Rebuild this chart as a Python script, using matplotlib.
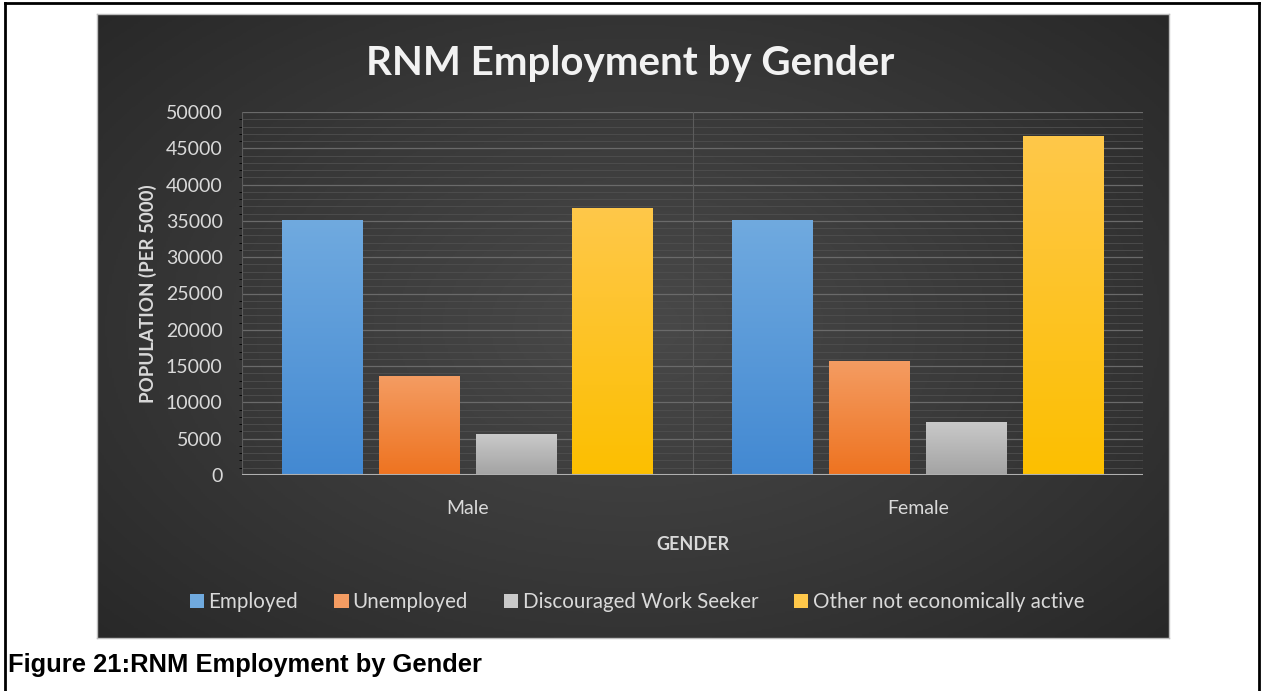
import numpy as np
import matplotlib
matplotlib.use("Agg")
import matplotlib.pyplot as plt
from matplotlib.patches import Patch
from matplotlib.lines import Line2D
from matplotlib.colors import LinearSegmentedColormap

# data
genders = ["Male", "Female"]
series = ["Employed", "Unemployed", "Discouraged Work Seeker", "Other not economically active"]
employed = [35100, 35100]
unemployed = [13600, 15700]
discouraged = [5600, 7300]
other_inactive = [36800, 46700]
yticks = list(range(0, 50001, 5000))

values = [employed, unemployed, discouraged, other_inactive]
# (top colour, bottom colour) for the excel-ish gradient
grads = [("#70aadf", "#4389d2"), ("#f49c62", "#ee7320"),
         ("#c9c9c9", "#a3a3a3"), ("#ffc84a", "#fcbf00")]

W, H = 1261, 691
fig = plt.figure(figsize=(W / 100, H / 100), dpi=100)
fig.patch.set_facecolor("white")

def fx(px):
    return px / W

def fy(py):
    return 1 - py / H

# page border lines
fig.add_artist(Line2D([fx(5), fx(1259)], [fy(3), fy(3)], color="black", lw=2))
fig.add_artist(Line2D([fx(5), fx(5)], [fy(3), 0], color="black", lw=2))
fig.add_artist(Line2D([fx(1259), fx(1259)], [fy(3), 0], color="black", lw=2))

# dark chart background with radial gradient
bg = fig.add_axes([fx(97), fy(638), fx(1169 - 97), (638 - 14) / H])
yy, xx = np.mgrid[0:1:300j, 0:1:500j]
r = np.sqrt(((xx - 0.5) / 0.75) ** 2 + ((yy - 0.5) / 0.8) ** 2)
bgcmap = LinearSegmentedColormap.from_list("bg", ["#494949", "#383838", "#252525"])
bg.imshow(np.clip(r, 0, 1), cmap=bgcmap, aspect="auto", extent=[0, 1, 0, 1], vmin=0, vmax=1)
bg.set_xticks([])
bg.set_yticks([])
for s in bg.spines.values():
    s.set_color("#bdbdbd")
    s.set_linewidth(1)

ax = fig.add_axes([fx(242), fy(475), fx(901), 363 / H])
ax.set_facecolor("none")

txt = "#d9d9d9"
font = "Lato"

# gridlines
ax.set_yticks(yticks)
ax.set_yticks(range(0, 50001, 1000), minor=True)
ax.grid(axis="y", which="major", color="#6a6a6a", lw=0.9)
ax.grid(axis="y", which="minor", color="#4f4f4f", lw=0.6)
for xv in [-0.5, 0.5, 1.5]:
    ax.axvline(xv, color="#5c5c5c", lw=0.8, zorder=1)
ax.axhline(0, color="#b0b0b0", lw=1.5, zorder=4)
ax.set_axisbelow(True)

x = np.arange(len(genders))
step = 0.215
width = 0.178
grad = np.linspace(0, 1, 256).reshape(-1, 1)
for i, vals in enumerate(values):
    off = (i - 1.5) * step
    cmap = LinearSegmentedColormap.from_list("g%d" % i, [grads[i][1], grads[i][0]])
    bars = ax.bar(x + off, vals, width, color=grads[i][1], zorder=3, label=series[i])
    for b in bars:
        im = ax.imshow(grad, cmap=cmap, aspect="auto", origin="lower", zorder=3.5,
                       extent=[b.get_x(), b.get_x() + b.get_width(), 0, b.get_height()])
        im.set_clip_path(b)
ax.set_xlim(-0.5, 1.5)
ax.set_ylim(0, 50000)

for s in ax.spines.values():
    s.set_visible(False)
ax.tick_params(length=0, colors=txt, labelsize=14)
ax.set_xticks(x)
ax.set_xticklabels(genders, fontfamily=font, color=txt)
ax.set_yticklabels([str(v) for v in yticks], fontfamily=font, color=txt)
ax.tick_params(axis="x", pad=18)
ax.tick_params(axis="y", pad=14)

ax.set_ylabel("POPULATION (PER 5000)", fontfamily=font, fontweight="bold",
              color=txt, fontsize=13.5, labelpad=6)
ax.set_xlabel("GENDER", fontfamily=font, fontweight="bold", color=txt,
              fontsize=13, labelpad=14)

fig.text(fx(630), fy(63), "RNM Employment by Gender", ha="center", va="center",
         fontfamily=font, fontweight="bold", fontsize=29, color="#f2f2f2")

handles = [Patch(facecolor=grads[i][0], edgecolor="none") for i in range(4)]
fig.legend(handles, series, loc="center", bbox_to_anchor=(fx(637), fy(602)), ncol=4,
           frameon=False, handlelength=0.7, handleheight=0.7, handletextpad=0.2,
           columnspacing=1.75, prop={"family": font, "size": 14.8}, labelcolor=txt)

fig.text(fx(8), fy(665), "Figure 21:RNM Employment by Gender", ha="left", va="center",
         fontfamily="Liberation Sans", fontweight="bold", fontsize=18.4, color="black")

fig.savefig("out.png", dpi=100)
